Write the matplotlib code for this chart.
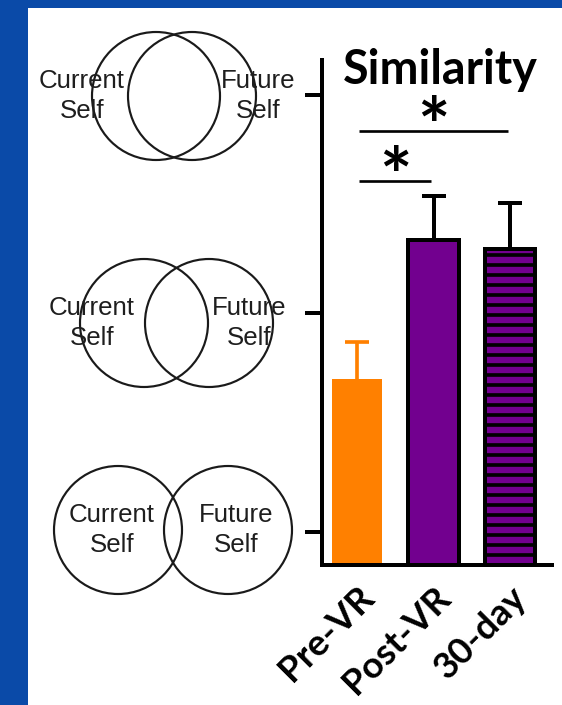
import matplotlib
matplotlib.use("Agg")
import matplotlib.pyplot as plt
from matplotlib.patches import Circle, Rectangle

# bar chart values (IOS-style similarity scale)
conditions = ["Pre-VR", "Post-VR", "30-day"]
means = [1.70, 2.336, 2.295]
sems = [0.17, 0.20, 0.21]
sig_pairs = [(0, 1), (0, 2)]
sig_heights = [2.606, 2.835]

# self-overlap diagrams drawn down the left side (pixel layout)
venn_y = [96, 323, 530]
venn_left_x = [156, 144, 118]
venn_right_x = [192, 209, 228]
label_left_x = [82, 92, 112]
label_right_x = [258, 249, 236]

W, H, DPI = 562, 705, 120
BLUE = "#0a4aa8"
ORANGE = "#ff8000"
PURPLE = "#72008f"

plt.rcParams["hatch.linewidth"] = 2.2

fig = plt.figure(figsize=(W / DPI, H / DPI), dpi=DPI, facecolor=BLUE)

# background layer in pixel coordinates
bg = fig.add_axes([0, 0, 1, 1], zorder=0)
bg.set_xlim(0, W)
bg.set_ylim(H, 0)
bg.axis("off")
bg.add_patch(Rectangle((28, 8), W - 28, H - 8, facecolor="white", edgecolor="none"))

for i in range(len(venn_y)):
    for cx in (venn_left_x[i], venn_right_x[i]):
        bg.add_patch(Circle((cx, venn_y[i]), 64, fill=False, edgecolor="#1a1a1a", linewidth=1.3))
    bg.text(label_left_x[i], venn_y[i], "Current\nSelf", ha="center", va="center",
            fontsize=15.5, family="Liberation Sans", color="#1e1e1e", linespacing=1.35)
    bg.text(label_right_x[i], venn_y[i], "Future\nSelf", ha="center", va="center",
            fontsize=15.5, family="Liberation Sans", color="#1e1e1e", linespacing=1.35)

# main bar chart
ax = fig.add_axes([322 / W, (H - 565) / H, (552 - 322) / W, (565 - 60) / H], zorder=1)
ax.patch.set_alpha(0)
ax.set_xlim(-0.46, 2.55)
ax.set_ylim(0.849, 3.16)

x = list(range(len(conditions)))
ax.bar(x[0], means[0], width=0.66, color=ORANGE, edgecolor="none", zorder=2)
ax.bar(x[1], means[1], width=0.66, color=PURPLE, edgecolor="black", linewidth=2.4, zorder=2)
ax.bar(x[2], means[2], width=0.66, color=PURPLE, edgecolor="black", linewidth=2.4,
       hatch="--", zorder=2)

# upper-only error bars: hide the cap sitting on the bar top
eb = ax.errorbar(x[0], means[0], yerr=[[0], [sems[0]]], fmt="none", ecolor=ORANGE,
                 elinewidth=2.2, capsize=7.2, capthick=2.2, zorder=1)
eb[1][0].set_visible(False)
eb = ax.errorbar(x[1:], means[1:], yerr=[[0, 0], sems[1:]], fmt="none", ecolor="black",
                 elinewidth=2.4, capsize=7.2, capthick=2.4, zorder=1)
eb[1][0].set_visible(False)

for (a, b), h in zip(sig_pairs, sig_heights):
    ax.plot([x[a] + 0.03, x[b] - 0.03], [h, h], color="black", linewidth=1.6, solid_capstyle="butt")
    ax.annotate("*", ((x[a] + x[b]) / 2, h), xytext=(0, -21), textcoords="offset points",
                ha="center", va="bottom", fontsize=46, fontweight="bold", family="Lato")

ax.text(1.085, 3.114, "Similarity", ha="center", va="center", fontsize=28,
        fontweight="bold", family="Lato")

for side in ("top", "right"):
    ax.spines[side].set_visible(False)
for side in ("left", "bottom"):
    ax.spines[side].set_linewidth(2.4)

ax.set_yticks([1, 2, 3])
ax.set_yticklabels([])
ax.tick_params(axis="y", length=10, width=2.4)
ax.set_xticks(x)
ax.set_xticklabels(conditions, rotation=45, ha="right", rotation_mode="anchor",
                   fontsize=22, fontweight="bold", family="Lato")
ax.tick_params(axis="x", length=0, pad=9)

fig.savefig("out.png", dpi=DPI, facecolor=BLUE)
